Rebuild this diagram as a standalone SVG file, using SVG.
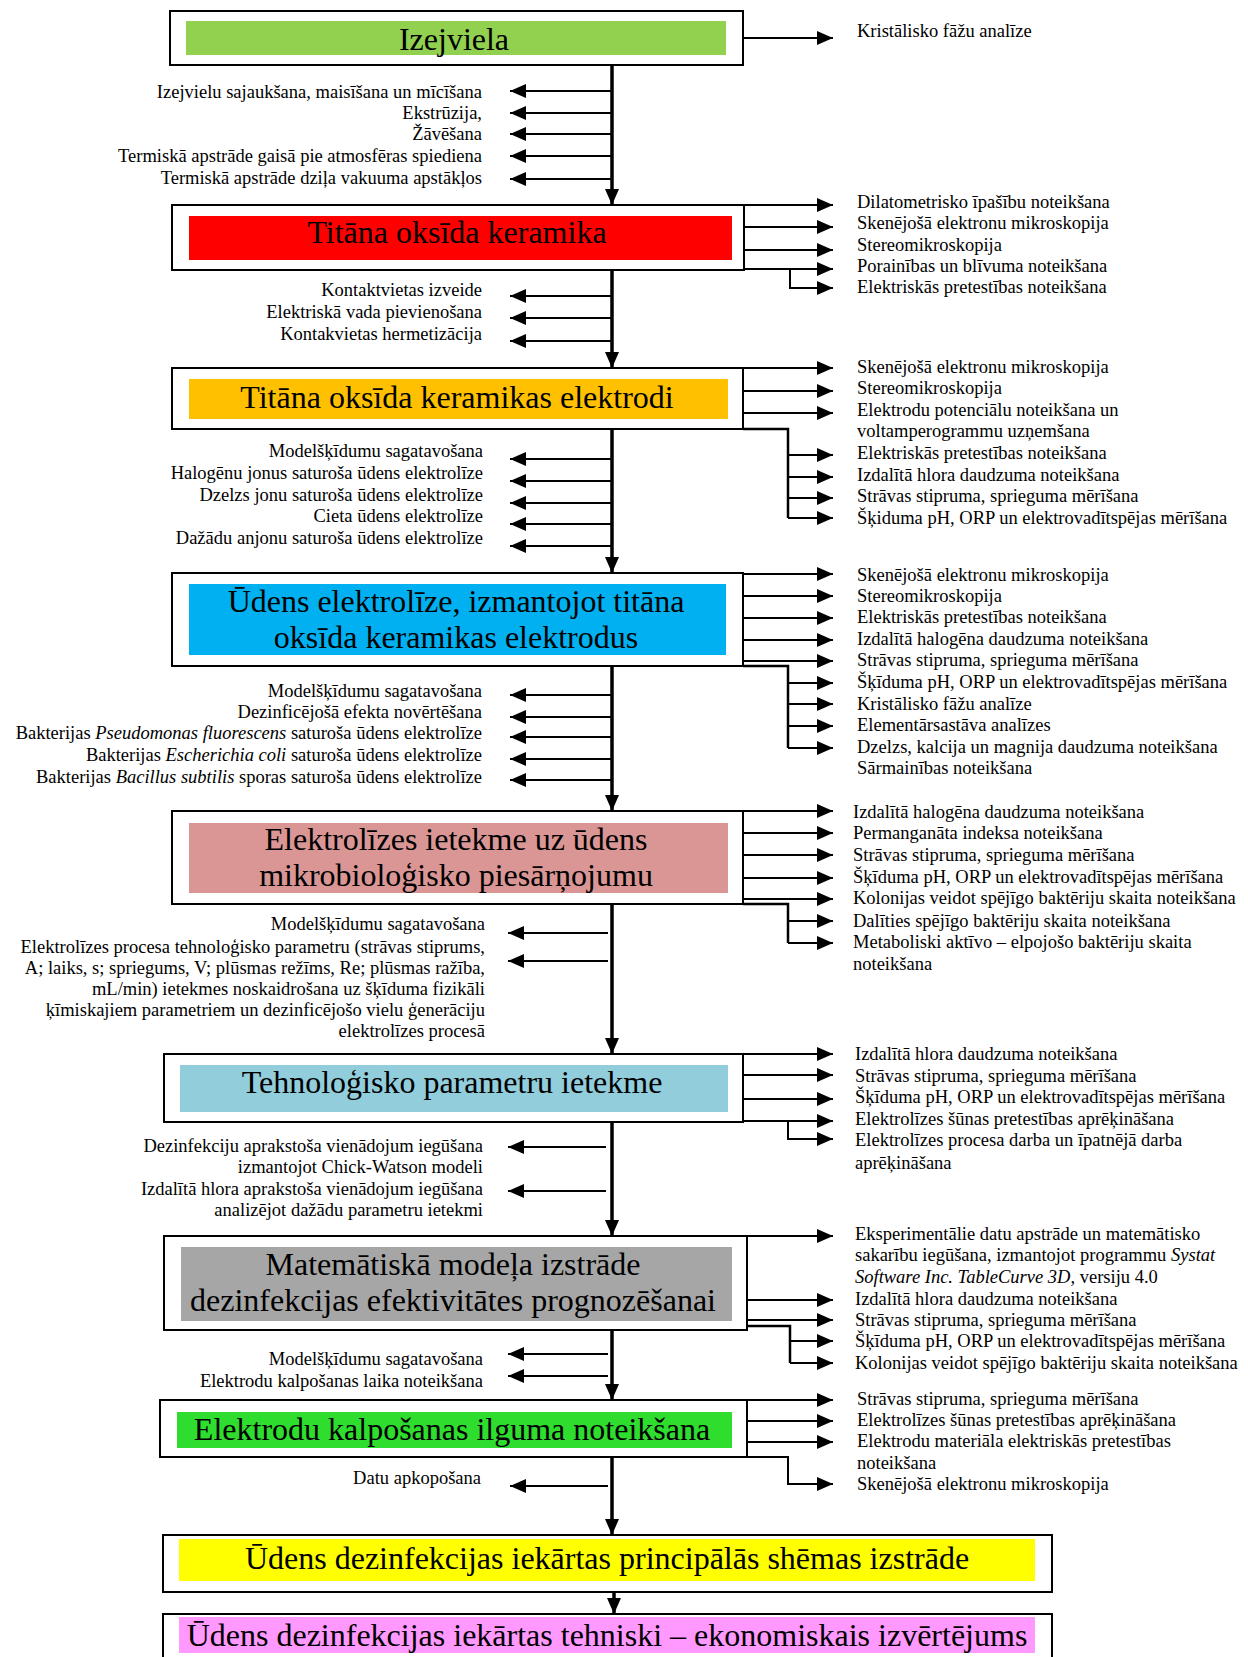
<svg xmlns="http://www.w3.org/2000/svg" width="1248" height="1657" viewBox="0 0 1248 1657">
<style>
text{font-family:"Liberation Serif","Times New Roman",serif;fill:#000}
.t{font-size:32px;text-anchor:middle}
.l{font-size:18.5px;text-anchor:end}
.r{font-size:18.5px}
.i{font-style:italic}
.box{fill:#fff;stroke:#000;stroke-width:2}
.c{fill:none;stroke:#000;stroke-width:2;marker-end:url(#ah)}
.b{fill:none;stroke:#000;stroke-width:2.5}
.m{fill:none;stroke:#000;stroke-width:3.5;marker-end:url(#am)}
</style>
<defs>
<marker id="ah" markerUnits="userSpaceOnUse" markerWidth="16" markerHeight="14" refX="16" refY="7" orient="auto"><path d="M0,0 L16,7 L0,14 z" fill="#000"/></marker>
<marker id="am" markerUnits="userSpaceOnUse" markerWidth="16" markerHeight="14" refX="16" refY="7" orient="auto"><path d="M0,0 L16,7 L0,14 z" fill="#000"/></marker>
</defs>
<rect width="1248" height="1657" fill="#fff"/>

<g id="connectors">
<!-- box 1 -->
<path class="c" d="M743,38 H833"/>
<path class="m" d="M612,65 V205"/>
<path class="c" d="M612,91 H510"/>
<path class="c" d="M612,113 H510"/>
<path class="c" d="M612,134 H510"/>
<path class="c" d="M612,156 H510"/>
<path class="c" d="M612,179 H510"/>
<!-- box 2 -->
<path class="c" d="M744,205 H833"/>
<path class="c" d="M744,227 H833"/>
<path class="c" d="M744,250 H833"/>
<path class="c" d="M744,269 H833"/>
<path class="c" d="M790,269 V288 H833"/>
<path class="m" d="M612,270 V368"/>
<path class="c" d="M612,296 H510"/>
<path class="c" d="M612,318 H510"/>
<path class="c" d="M612,341 H510"/>
<!-- box 3 -->
<path class="c" d="M743,368 H833"/>
<path class="c" d="M743,391 H833"/>
<path class="c" d="M743,413 H833"/>
<path class="b" d="M743,429 H788 V518"/>
<path class="c" d="M788,455 H833"/>
<path class="c" d="M788,477 H833"/>
<path class="c" d="M788,498 H833"/>
<path class="c" d="M788,518 H833"/>
<path class="m" d="M612,429 V573"/>
<path class="c" d="M612,459 H510"/>
<path class="c" d="M612,481 H510"/>
<path class="c" d="M612,503 H510"/>
<path class="c" d="M612,524 H510"/>
<path class="c" d="M612,546 H510"/>
<!-- box 4 -->
<path class="c" d="M743,574 H833"/>
<path class="c" d="M743,596 H833"/>
<path class="c" d="M743,618 H833"/>
<path class="c" d="M743,640 H833"/>
<path class="c" d="M743,661 H833"/>
<path class="b" d="M743,666 H788 V748"/>
<path class="c" d="M788,683 H833"/>
<path class="c" d="M788,704 H833"/>
<path class="c" d="M788,726 H833"/>
<path class="c" d="M788,748 H833"/>
<path class="m" d="M612,666 V811"/>
<path class="c" d="M612,695 H510"/>
<path class="c" d="M612,717 H510"/>
<path class="c" d="M612,737 H510"/>
<path class="c" d="M612,759 H510"/>
<path class="c" d="M612,780 H510"/>
<!-- box 5 -->
<path class="c" d="M743,811 H833"/>
<path class="c" d="M743,833 H833"/>
<path class="c" d="M743,855 H833"/>
<path class="c" d="M743,878 H833"/>
<path class="c" d="M743,899 H833"/>
<path class="b" d="M743,904 H788 V943"/>
<path class="c" d="M788,921 H833"/>
<path class="c" d="M788,943 H833"/>
<path class="m" d="M612,904 V1054"/>
<path class="c" d="M608,933 H508"/>
<path class="c" d="M608,961 H508"/>
<!-- box 6 -->
<path class="c" d="M743,1054 H833"/>
<path class="c" d="M743,1075 H833"/>
<path class="c" d="M743,1099 H833"/>
<path class="c" d="M743,1121 H833"/>
<path class="c" d="M788,1121 V1139 H833"/>
<path class="m" d="M612,1122 V1236"/>
<path class="c" d="M606,1147 H508"/>
<path class="c" d="M606,1191 H508"/>
<!-- box 7 -->
<path class="c" d="M747,1236 H833"/>
<path class="c" d="M747,1300 H833"/>
<path class="c" d="M747,1320 H833"/>
<path class="b" d="M747,1326 H790 V1363"/>
<path class="c" d="M790,1341 H833"/>
<path class="c" d="M790,1363 H833"/>
<path class="m" d="M612,1330 V1400"/>
<path class="c" d="M608,1354 H508"/>
<path class="c" d="M608,1376 H508"/>
<!-- box 8 -->
<path class="c" d="M747,1400 H833"/>
<path class="c" d="M747,1421 H833"/>
<path class="c" d="M747,1442 H833"/>
<path class="c" d="M747,1457 H788 V1484 H833"/>
<path class="m" d="M612,1457 V1535"/>
<path class="c" d="M608,1486 H510"/>
<!-- box 9 -->
<path class="m" d="M614,1592 V1614"/>
</g>

<g id="n1">
<rect class="box" x="170" y="11" width="573" height="54"/>
<rect x="186" y="21" width="540" height="34" fill="#92D050"/>
<text class="t" x="454" y="50">Izejviela</text>
<text class="r" x="857" y="37">Kristālisko fāžu analīze</text>
<text class="l" x="482" y="98">Izejvielu sajaukšana, maisīšana un mīcīšana</text>
<text class="l" x="482" y="119">Ekstrūzija,</text>
<text class="l" x="482" y="140">Žāvēšana</text>
<text class="l" x="482" y="162">Termiskā apstrāde gaisā pie atmosfēras spiediena</text>
<text class="l" x="482" y="184">Termiskā apstrāde dziļa vakuuma apstākļos</text>
</g>

<g id="n2">
<rect class="box" x="172" y="205" width="572" height="65"/>
<rect x="189" y="216" width="543" height="44" fill="#FF0000"/>
<text class="t" x="457" y="243">Titāna oksīda keramika</text>
<text class="r" x="857" y="208">Dilatometrisko īpašību noteikšana</text>
<text class="r" x="857" y="229">Skenējošā elektronu mikroskopija</text>
<text class="r" x="857" y="251">Stereomikroskopija</text>
<text class="r" x="857" y="272">Porainības un blīvuma noteikšana</text>
<text class="r" x="857" y="293">Elektriskās pretestības noteikšana</text>
<text class="l" x="482" y="296">Kontaktvietas izveide</text>
<text class="l" x="482" y="318">Elektriskā vada pievienošana</text>
<text class="l" x="482" y="340">Kontakvietas hermetizācija</text>
</g>

<g id="n3">
<rect class="box" x="172" y="368" width="571" height="61"/>
<rect x="189" y="379" width="539" height="40" fill="#FFC000"/>
<text class="t" x="457" y="408">Titāna oksīda keramikas elektrodi</text>
<text class="r" x="857" y="373">Skenējošā elektronu mikroskopija</text>
<text class="r" x="857" y="394">Stereomikroskopija</text>
<text class="r" x="857" y="416">Elektrodu potenciālu noteikšana un</text>
<text class="r" x="857" y="437">voltamperogrammu uzņemšana</text>
<text class="r" x="857" y="459">Elektriskās pretestības noteikšana</text>
<text class="r" x="857" y="481">Izdalītā hlora daudzuma noteikšana</text>
<text class="r" x="857" y="502">Strāvas stipruma, sprieguma mērīšana</text>
<text class="r" x="857" y="524">Šķiduma pH, ORP un elektrovadītspējas mērīšana</text>
<text class="l" x="483" y="457">Modelšķīdumu sagatavošana</text>
<text class="l" x="483" y="479">Halogēnu jonus saturoša ūdens elektrolīze</text>
<text class="l" x="483" y="501">Dzelzs jonu saturoša ūdens elektrolīze</text>
<text class="l" x="483" y="522">Cieta ūdens elektrolīze</text>
<text class="l" x="483" y="544">Dažādu anjonu saturoša ūdens elektrolīze</text>
</g>

<g id="n4">
<rect class="box" x="172" y="573" width="571" height="93"/>
<rect x="189" y="584" width="537" height="71" fill="#00B0F0"/>
<text class="t" x="456" y="612">Ūdens elektrolīze, izmantojot titāna</text>
<text class="t" x="456" y="648">oksīda keramikas elektrodus</text>
<text class="r" x="857" y="581">Skenējošā elektronu mikroskopija</text>
<text class="r" x="857" y="602">Stereomikroskopija</text>
<text class="r" x="857" y="623">Elektriskās pretestības noteikšana</text>
<text class="r" x="857" y="645">Izdalītā halogēna daudzuma noteikšana</text>
<text class="r" x="857" y="666">Strāvas stipruma, sprieguma mērīšana</text>
<text class="r" x="857" y="688">Šķīduma pH, ORP un elektrovadītspējas mērīšana</text>
<text class="r" x="857" y="710">Kristālisko fāžu analīze</text>
<text class="r" x="857" y="731">Elementārsastāva analīzes</text>
<text class="r" x="857" y="753">Dzelzs, kalcija un magnija daudzuma noteikšana</text>
<text class="r" x="857" y="774">Sārmainības noteikšana</text>
<text class="l" x="482" y="697">Modelšķīdumu sagatavošana</text>
<text class="l" x="482" y="718">Dezinficējošā efekta novērtēšana</text>
<text class="l" x="482" y="739">Bakterijas <tspan class="i">Pseudomonas fluorescens</tspan> saturoša ūdens elektrolīze</text>
<text class="l" x="482" y="761">Bakterijas <tspan class="i">Escherichia coli</tspan> saturoša ūdens elektrolīze</text>
<text class="l" x="482" y="783">Bakterijas <tspan class="i">Bacillus subtilis</tspan> sporas saturoša ūdens elektrolīze</text>
</g>

<g id="n5">
<rect class="box" x="172" y="811" width="571" height="93"/>
<rect x="189" y="823" width="539" height="70" fill="#DA9694"/>
<text class="t" x="456" y="850">Elektrolīzes ietekme uz ūdens</text>
<text class="t" x="456" y="886">mikrobioloģisko piesārņojumu</text>
<text class="r" x="853" y="818">Izdalītā halogēna daudzuma noteikšana</text>
<text class="r" x="853" y="839">Permanganāta indeksa noteikšana</text>
<text class="r" x="853" y="861">Strāvas stipruma, sprieguma mērīšana</text>
<text class="r" x="853" y="883">Šķīduma pH, ORP un elektrovadītspējas mērīšana</text>
<text class="r" x="853" y="904">Kolonijas veidot spējīgo baktēriju skaita noteikšana</text>
<text class="r" x="853" y="927">Dalīties spējīgo baktēriju skaita noteikšana</text>
<text class="r" x="853" y="948">Metaboliski aktīvo – elpojošo baktēriju skaita</text>
<text class="r" x="853" y="970">noteikšana</text>
<text class="l" x="485" y="930">Modelšķīdumu sagatavošana</text>
<text class="l" x="485" y="953">Elektrolīzes procesa tehnoloģisko parametru (strāvas stiprums,</text>
<text class="l" x="485" y="974">A; laiks, s; spriegums, V; plūsmas režīms, Re; plūsmas ražība,</text>
<text class="l" x="485" y="995">mL/min) ietekmes noskaidrošana uz šķīduma fizikāli</text>
<text class="l" x="485" y="1016">ķīmiskajiem parametriem un dezinficējošo vielu ģenerāciju</text>
<text class="l" x="485" y="1037">elektrolīzes procesā</text>
</g>

<g id="n6">
<rect class="box" x="164" y="1054" width="579" height="68"/>
<rect x="180" y="1065" width="548" height="47" fill="#92CDDC"/>
<text class="t" x="452" y="1093">Tehnoloģisko parametru ietekme</text>
<text class="r" x="855" y="1060">Izdalītā hlora daudzuma noteikšana</text>
<text class="r" x="855" y="1082">Strāvas stipruma, sprieguma mērīšana</text>
<text class="r" x="855" y="1103">Šķīduma pH, ORP un elektrovadītspējas mērīšana</text>
<text class="r" x="855" y="1125">Elektrolīzes šūnas pretestības aprēķināšana</text>
<text class="r" x="855" y="1146">Elektrolīzes procesa darba un īpatnējā darba</text>
<text class="r" x="855" y="1169">aprēķināšana</text>
<text class="l" x="483" y="1152">Dezinfekciju aprakstoša vienādojum iegūšana</text>
<text class="l" x="483" y="1173">izmantojot Chick-Watson modeli</text>
<text class="l" x="483" y="1195">Izdalītā hlora aprakstoša vienādojum iegūšana</text>
<text class="l" x="483" y="1216">analizējot dažādu parametru ietekmi</text>
</g>

<g id="n7">
<rect class="box" x="164" y="1236" width="583" height="94"/>
<rect x="181" y="1247" width="551" height="74" fill="#A6A6A6"/>
<text class="t" x="453" y="1275">Matemātiskā modeļa izstrāde</text>
<text class="t" x="453" y="1311">dezinfekcijas efektivitātes prognozēšanai</text>
<text class="r" x="855" y="1240">Eksperimentālie datu apstrāde un matemātisko</text>
<text class="r" x="855" y="1261">sakarību iegūšana, izmantojot programmu <tspan class="i">Systat</tspan></text>
<text class="r" x="855" y="1283"><tspan class="i">Software Inc. TableCurve 3D,</tspan> versiju 4.0</text>
<text class="r" x="855" y="1305">Izdalītā hlora daudzuma noteikšana</text>
<text class="r" x="855" y="1326">Strāvas stipruma, sprieguma mērīšana</text>
<text class="r" x="855" y="1347">Šķīduma pH, ORP un elektrovadītspējas mērīšana</text>
<text class="r" x="855" y="1369">Kolonijas veidot spējīgo baktēriju skaita noteikšana</text>
<text class="l" x="483" y="1365">Modelšķīdumu sagatavošana</text>
<text class="l" x="483" y="1387">Elektrodu kalpošanas laika noteikšana</text>
</g>

<g id="n8">
<rect class="box" x="160" y="1400" width="587" height="57"/>
<rect x="177" y="1412" width="555" height="36" fill="#2EDD2E"/>
<text class="t" x="452" y="1440">Elektrodu kalpošanas ilguma noteikšana</text>
<text class="r" x="857" y="1405">Strāvas stipruma, sprieguma mērīšana</text>
<text class="r" x="857" y="1426">Elektrolīzes šūnas pretestības aprēķināšana</text>
<text class="r" x="857" y="1447">Elektrodu materiāla elektriskās pretestības</text>
<text class="r" x="857" y="1469">noteikšana</text>
<text class="r" x="857" y="1490">Skenējošā elektronu mikroskopija</text>
<text class="l" x="481" y="1484">Datu apkopošana</text>
</g>

<g id="n9">
<rect class="box" x="163" y="1535" width="889" height="57"/>
<rect x="179" y="1539" width="856" height="42" fill="#FFFF00"/>
<text class="t" x="607" y="1569">Ūdens dezinfekcijas iekārtas principālās shēmas izstrāde</text>
</g>

<g id="n10">
<rect class="box" x="163" y="1614" width="889" height="60"/>
<rect x="179" y="1617" width="856" height="36" fill="#FF99FF"/>
<text class="t" x="607" y="1646">Ūdens dezinfekcijas iekārtas tehniski – ekonomiskais izvērtējums</text>
</g>
</svg>
